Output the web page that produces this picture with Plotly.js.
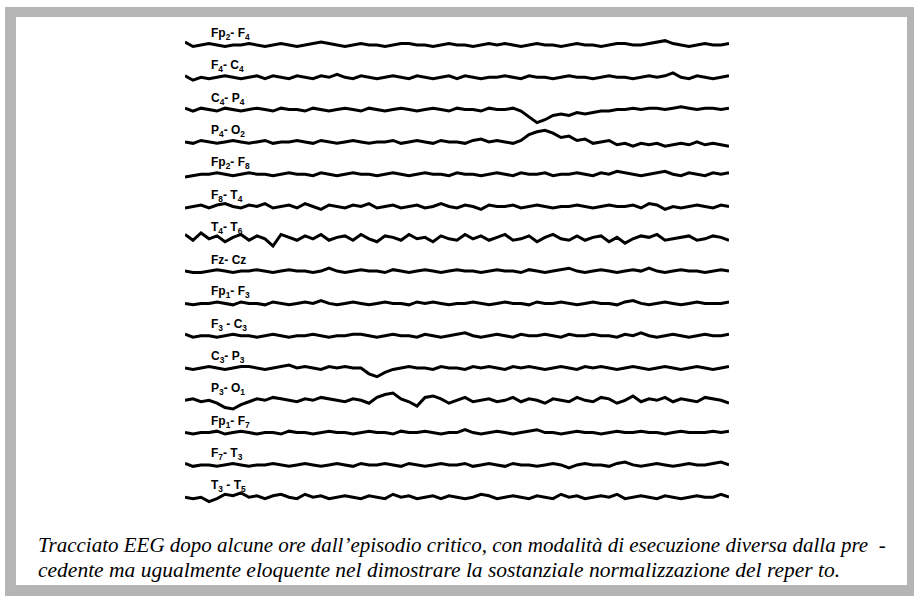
<!DOCTYPE html>
<html><head><meta charset="utf-8">
<script src="https://cdn.plot.ly/plotly-3.0.1.min.js"></script>
<style>html,body{margin:0;padding:0;background:#fff;}#chart{width:914px;height:596px;}</style>
</head><body><div id="chart"></div>
<script>
// Channel labels (montage derivations), top to bottom
const channelLabels = [
  "Fp<sub>2</sub>- F<sub>4</sub>", "F<sub>4</sub>- C<sub>4</sub>", "C<sub>4</sub>- P<sub>4</sub>", "P<sub>4</sub>- O<sub>2</sub>",
  "Fp<sub>2</sub>- F<sub>8</sub>", "F<sub>8</sub>- T<sub>4</sub>", "T<sub>4</sub>- T<sub>6</sub>", "Fz- Cz",
  "Fp<sub>1</sub>- F<sub>3</sub>", "F<sub>3</sub> - C<sub>3</sub>", "C<sub>3</sub>- P<sub>3</sub>", "P<sub>3</sub>- O<sub>1</sub>",
  "Fp<sub>1</sub>- F<sub>7</sub>", "F<sub>7</sub>- T<sub>3</sub>", "T<sub>3</sub> - T<sub>5</sub>"
];

const fp2_f4 = [2,-1,0,1,0,-1,0,0,1,0, -1,0,1,0,-1,0,1,2,1,0, -1,0,1,0,0,-1,0,1,1,0, 0,-1,0,1,0,0,-1,0,1,0, 1,0,-1,0,1,0,0,-1,0,1, 0,0,-1,0,1,1,0,0,1,2, 3,1,0,-1,0,1,0,0,1];
const f4_c4  = [1,-2,0,-1,0,1,0,-1,0,1, -1,1,0,-1,1,0,-1,1,0,2, 0,-1,1,0,-1,0,1,0,-1,1, 0,-1,0,1,-1,1,0,-1,0,0, 1,0,-1,1,0,0,-1,0,1,0, 0,-1,0,1,0,0,-1,0,1,0, 1,3,0,-1,1,0,-1,0,1];
const c4_p4  = [1,-1,1,0,-1,1,0,-1,0,1, 0,-1,1,0,0,-1,1,0,-1,0, 1,0,-1,1,0,-1,0,1,0,-1, 0,1,0,-1,1,0,0,-1,1,0, 0,1,-1,-5,-9,-7,-4,-3,-4,-2, -3,-2,-1,-1,0,0,1,0,1,1, 0,1,2,1,0,1,1,0,1];
const p4_o2  = [0,-1,1,0,-1,0,1,0,-1,0, 1,-1,0,0,1,0,-1,1,0,-1, 0,1,0,-1,0,0,1,-1,0,1, 0,-1,1,0,0,-1,1,2,0,1, 0,-1,1,5,7,8,6,3,4,1, 2,-1,0,1,-2,-1,-3,-1,-2,-1, -3,-2,-1,-2,0,-2,-1,-2,-3];
const fp2_f8 = [-2,-1,0,0,1,0,-1,0,1,0, 0,-1,0,1,0,0,-1,1,0,-1, 0,1,0,0,-1,0,1,0,-1,0, 1,0,0,-1,1,0,0,-1,0,1, 0,-1,1,0,0,1,-1,0,0,1, 0,-1,1,0,2,1,0,-1,0,1, 2,0,-1,1,0,-1,1,0,1];
const f8_t4  = [-1,0,1,-1,1,2,0,-1,1,0, 2,-1,0,1,-1,2,0,-2,1,0, -1,1,0,2,-1,0,1,-1,0,1, -1,0,2,0,-1,1,0,-2,1,0, 0,1,-1,0,1,0,-1,0,0,1, 0,-1,0,1,0,0,1,-1,2,1, -2,0,-1,0,1,0,-1,1,0];
const t4_t6  = [3,-1,4,0,2,-2,1,3,-1,2, 0,-5,3,1,-1,2,0,3,-1,1, 2,-1,3,0,-2,2,1,-1,3,0, 1,-2,2,0,-1,3,0,2,-1,1, 3,-1,0,2,-2,1,3,0,-1,2, -1,1,2,-2,1,-3,0,2,1,3, -1,0,1,2,-1,0,2,1,-1];
const fz_cz  = [0,-1,-1,0,1,0,-1,0,0,1, 0,-1,0,1,0,0,-1,0,2,0, -1,0,1,0,0,-1,1,0,-1,0, 1,0,-1,0,1,0,0,-1,0,1, 0,0,-1,1,0,-1,0,1,2,0, -1,0,1,0,-1,0,1,0,2,0, -1,0,1,0,0,-1,0,1,0];
const fp1_f3 = [0,-1,0,0,1,0,-1,1,0,0, -1,1,0,-1,0,1,0,2,0,-1, 0,1,0,-1,0,1,0,0,-1,1, 0,1,0,-1,0,0,1,0,-1,0, 1,0,0,-1,1,0,0,1,0,-1, 0,1,0,0,-1,1,2,0,-1,0, 1,0,-1,0,1,0,0,0,1];
const f3_c3  = [1,-1,0,0,-1,0,1,0,0,-1, 0,1,0,-1,0,0,1,0,-1,0, 0,1,1,0,-1,0,1,0,0,-1, 1,0,-1,0,1,2,0,-1,0,1, 0,-1,1,0,0,1,0,-1,1,0, 0,1,0,0,-1,1,0,2,0,-1, 0,1,0,-1,0,1,0,0,1];
const c3_p3  = [0,-1,0,1,0,-1,0,1,1,0, -1,0,1,2,0,1,0,-1,1,0, 1,0,0,-4,-6,-3,-1,0,1,0, 0,-1,1,0,0,-1,1,0,1,0, -1,1,0,1,0,-1,0,1,0,-1, 1,0,1,0,-1,0,1,0,-1,0, 1,0,-1,0,1,0,-1,0,1];
const p3_o1  = [0,1,-1,0,-2,-5,-6,-3,-1,1, 0,2,1,0,-1,1,0,2,1,0, -1,1,0,-2,2,4,5,1,-1,-4, 2,3,1,-2,0,2,-1,0,1,-1, 0,2,-1,1,0,-2,1,0,-1,2, 0,-1,2,1,-2,0,3,-1,1,0, 2,-1,1,0,-1,2,1,0,-2];
const fp1_f7 = [0,-1,0,0,1,-1,0,1,0,-1, 0,0,-1,1,0,0,-1,0,1,0, 0,-1,0,1,0,0,-1,1,0,0, 1,0,-1,0,0,2,0,-1,0,1, 0,-1,0,1,2,0,0,-1,0,1, 0,0,-1,0,1,0,0,1,0,0, -1,0,1,0,0,0,1,0,1];
const f7_t3  = [1,-1,0,0,-1,0,1,0,-1,0, 0,1,0,-1,0,1,0,-1,0,1, 0,-1,1,0,0,1,0,-1,1,0, -1,0,1,0,0,1,-1,0,1,0, -1,1,0,0,-1,0,1,0,-2,0, 1,0,0,-1,1,2,0,-1,0,1, 0,-1,0,1,0,0,1,2,0];
const t3_t5  = [0,-1,0,-3,-1,2,1,3,0,1, -1,1,2,0,-1,2,0,1,-1,0, 1,0,-1,1,0,-1,2,0,1,-1, 0,1,-1,1,0,-1,0,2,1,-1, 0,1,0,-1,1,0,-1,2,0,1, -1,0,1,0,2,-1,0,1,0,-1, 1,0,-1,0,1,0,0,2,0];

const channels = [fp2_f4,f4_c4,c4_p4,p4_o2,fp2_f8,f8_t4,t4_t6,fz_cz,fp1_f3,f3_c3,c3_p3,p3_o1,fp1_f7,f7_t3,t3_t5];

const W = 914, H = 596;
const SPACING = 32.3, GAIN = 1.45;
const traces = channels.map((vals, i) => ({
  x: vals.map((_, k) => k),
  y: vals.map(v => -i * SPACING + v * GAIN),
  type: 'scatter', mode: 'lines',
  line: {color: '#000', width: 3, shape: 'linear'},
  hoverinfo: 'skip', showlegend: false
}));

const annotations = channelLabels.map((lab, i) => ({
  x: 3.0, y: -i * SPACING + 11, xref: 'x', yref: 'y',
  text: lab, showarrow: false, xanchor: 'left', yanchor: 'middle',
  font: {family: 'Liberation Sans', size: 12, color: '#000', weight: 'bold'}
}));

const captionFont = {family: 'Liberation Serif', size: 21, color: '#000', style: 'italic'};
annotations.push({
  x: 36 / W, y: 1 - 545 / H, xref: 'paper', yref: 'paper', showarrow: false,
  xanchor: 'left', yanchor: 'middle', font: captionFont,
  text: 'Tracciato EEG dopo alcune ore dall’episodio critico, con modalità di esecuzione diversa dalla pre  -'
});
annotations.push({
  x: 36 / W, y: 1 - 570 / H, xref: 'paper', yref: 'paper', showarrow: false,
  xanchor: 'left', yanchor: 'middle', font: Object.assign({}, captionFont, {size: 21.5}),
  text: 'cedente ma ugualmente eloquente nel dimostrare la sostanziale normalizzazione del reper to.'
});

const shapes = [
  {type: 'rect', xref: 'paper', yref: 'paper', x0: 5 / W, x1: 1, y0: 0, y1: 1 - 7 / H,
   fillcolor: '#b5b5b5', line: {width: 0}, layer: 'below'},
  {type: 'rect', xref: 'paper', yref: 'paper', x0: 16 / W, x1: 907 / W, y0: 1 - 585 / H, y1: 1 - 17 / H,
   fillcolor: '#ffffff', line: {width: 0}, layer: 'below'}
];

const layout = {
  width: W, height: H,
  margin: {l: 0, r: 0, t: 0, b: 0},
  paper_bgcolor: '#ffffff', plot_bgcolor: 'rgba(0,0,0,0)',
  xaxis: {range: [0, 68], domain: [185 / W, 729 / W], visible: false, fixedrange: true},
  yaxis: {range: [45 - H, 45], domain: [0, 1], visible: false, fixedrange: true},
  shapes, annotations
};

Plotly.newPlot('chart', traces, layout, {displayModeBar: false, staticPlot: true});
</script></body></html>
